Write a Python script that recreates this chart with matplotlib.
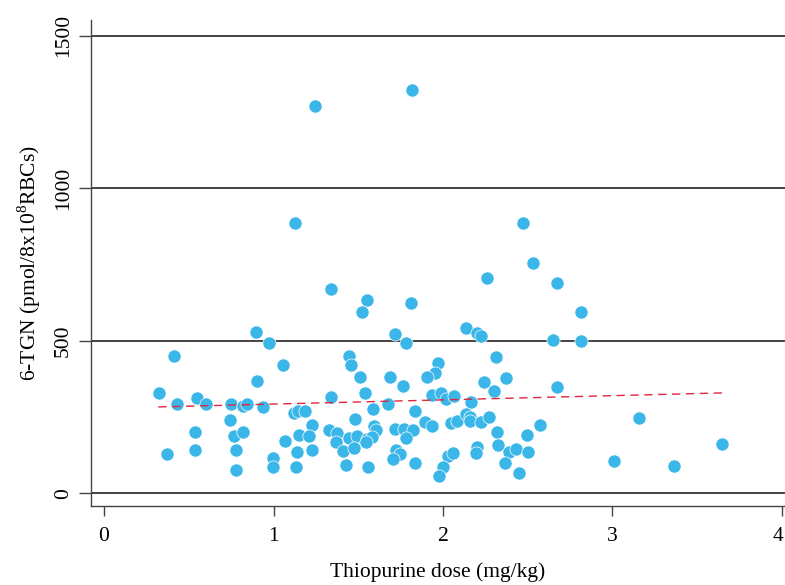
import matplotlib
matplotlib.use("Agg")
import matplotlib.pyplot as plt
from matplotlib.transforms import ScaledTranslation

plt.rcParams["font.family"] = ["Liberation Serif", "DejaVu Serif"]
plt.rcParams["mathtext.fontset"] = "custom"
plt.rcParams["mathtext.rm"] = "Liberation Serif"

# thiopurine dose (mg/kg) vs 6-TGN level
dose = [
    1.245, 1.820, 1.127, 2.472, 1.339, 2.260, 2.531, 2.673, 1.552, 1.811,
    1.522, 2.814, 0.897, 0.973, 0.413, 1.445, 1.717, 1.782, 2.136, 2.201,
    2.224, 2.649, 2.814, 2.313, 1.971, 1.457, 1.056, 0.903, 1.687, 1.764,
    1.510, 1.540, 1.339, 0.324, 0.431, 0.549, 0.602, 0.749, 0.820, 0.844,
    0.938, 1.121, 1.145, 1.186, 1.676, 1.587, 1.835, 0.743, 0.537, 0.767,
    0.820, 1.227, 1.150, 1.209, 1.481, 1.327, 1.375, 1.593, 1.605, 1.369,
    1.445, 1.493, 1.552, 1.581, 1.546, 1.717, 1.770, 1.823, 1.782, 1.068,
    0.537, 0.372, 0.779, 1.139, 1.227, 1.410, 1.475, 0.997, 0.997, 1.133,
    1.428, 1.558, 0.779, 1.723, 1.746, 1.705, 1.835, 1.953, 1.906, 2.242,
    2.372, 2.301, 2.673, 1.935, 1.988, 2.018, 2.065, 2.165, 1.894, 1.935,
    2.047, 2.083, 2.136, 2.159, 2.159, 2.224, 2.271, 2.319, 2.496, 2.572,
    2.324, 2.389, 2.431, 2.501, 2.201, 2.195, 2.029, 2.059, 2.366, 2.448,
    2.000, 1.976, 3.156, 3.009, 3.363, 3.646,
]
tgn = [
    1270, 1323, 886, 886, 670, 706, 755, 690, 634, 624,
    595, 595, 529, 493, 450, 450, 522, 493, 542, 526,
    516, 503, 500, 447, 427, 421, 421, 368, 381, 352,
    381, 329, 316, 329, 293, 313, 293, 293, 286, 293,
    283, 263, 270, 270, 293, 276, 270, 240, 201, 188,
    201, 224, 191, 188, 244, 208, 198, 221, 208, 168,
    181, 188, 178, 185, 168, 211, 211, 208, 181, 171,
    142, 129, 142, 135, 142, 139, 149, 116, 86, 86,
    93, 86, 76, 142, 129, 112, 99, 395, 381, 365,
    378, 336, 349, 322, 329, 309, 319, 299, 234, 221,
    231, 237, 260, 250, 237, 234, 250, 201, 191, 224,
    158, 135, 145, 135, 152, 132, 122, 132, 99, 67,
    86, 57, 247, 106, 90, 162,
]

# fitted line end points
fit_x = [0.32, 3.65]
fit_y = [283, 329]

x_ticks = [0, 1, 2, 3, 4]
y_ticks = [0, 500, 1000, 1500]

fig = plt.figure(figsize=(7.85, 5.85), dpi=100)
ax = fig.add_axes([0.1159, 0.1350, 0.8841, 0.8308])

ax.set_axisbelow(True)
ax.grid(axis="y", color="#111111", linewidth=1.1)
ax.scatter(dose, tgn, s=90, color="#3AB6E8", edgecolors="white", linewidths=0.5, zorder=3)
ax.plot(fit_x, fit_y, color="#E0263C", linewidth=1.0, linestyle=(0, (6, 4)), zorder=4)

ax.set_xlim(-0.077, 4.018)
ax.set_ylim(-42, 1552)
ax.set_xticks(x_ticks)
ax.set_yticks(y_ticks)

for side in ("top", "right"):
    ax.spines[side].set_visible(False)
for side in ("left", "bottom"):
    ax.spines[side].set_color("#444444")
    ax.spines[side].set_linewidth(1.0)

ax.tick_params(axis="x", length=7, width=1, color="#444444", labelsize=15.5, pad=8)
ax.tick_params(axis="y", length=9, width=1, color="#444444", labelsize=15.5, pad=4)
for lab in ax.get_yticklabels():
    lab.set_rotation(90)
    lab.set_va("center")

# last x label sits right at the figure edge; nudge it in a little
last = ax.get_xticklabels()[-1]
last.set_transform(last.get_transform() + ScaledTranslation(-4 / 100, 0, fig.dpi_scale_trans))

ax.set_xlabel("Thiopurine dose (mg/kg)", fontsize=15.5, labelpad=12)
ax.set_ylabel("6-TGN (pmol/8x10$^{8}$RBCs)", fontsize=15.5, labelpad=8)

fig.savefig("out.png", dpi=100)
